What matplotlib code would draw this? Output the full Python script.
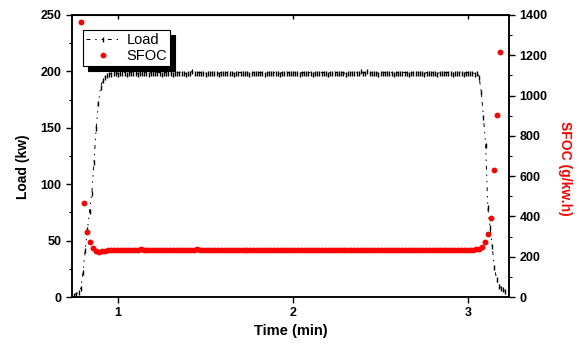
import matplotlib

matplotlib.use("Agg")
import matplotlib.pyplot as plt  # noqa: E402
import numpy as np  # noqa: E402
from matplotlib.ticker import MultipleLocator  # noqa: E402

plt.rcParams["font.family"] = ["Liberation Sans", "DejaVu Sans"]

# engine load (kW), sampled evenly from 0.75 to 3.2125 min
load_ramp = [2, 3, 4, 8, 22, 42, 60, 76, 92, 120, 150, 172, 186, 192, 195, 197, 198]
load_steady = [
    198, 199, 199, 198, 199, 199, 199, 198, 199, 199, 199, 199, 198, 199, 199, 199, 199, 198, 199, 199, 199, 199, 199, 198,
    199, 199, 199, 199, 198, 199, 199, 199, 199, 199, 198, 199, 199, 200, 199, 199, 199, 199, 199, 198, 199, 199, 199, 199,
    199, 198, 199, 199, 199, 199, 199, 199, 198, 199, 199, 199, 199, 199, 199, 198, 199, 199, 199, 199, 199, 199, 198, 199,
    199, 199, 199, 199, 199, 198, 199, 199, 199, 199, 199, 199, 199, 199, 198, 199, 199, 199, 199, 199, 198, 199, 199, 199,
    199, 199, 199, 198, 199, 199, 199, 199, 199, 199, 199, 198, 199, 199, 199, 199, 199, 199, 200, 199, 199, 200, 199, 199,
    199, 199, 198, 199, 199, 199, 199, 199, 199, 198, 199, 199, 199, 199, 199, 199, 198, 199, 199, 199, 199, 199, 199, 198,
    199, 199, 199, 199, 199, 198, 199, 199, 199, 199, 199, 199, 198, 199, 199, 199, 199, 198, 199, 199, 199, 199, 198, 199,
]
load_drop = [195, 182, 160, 135, 80, 62, 45, 27, 16, 10, 8, 7, 5]
load = load_ramp + load_steady + load_drop
t_load = np.linspace(0.75, 3.2125, len(load))

# specific fuel oil consumption (g/kW.h), sampled evenly from 0.789 to 3.182 min
sfoc_start = [1365, 467, 323, 273, 243, 228, 224, 226, 229, 231]
sfoc_steady = [
    233, 233, 234, 234, 234, 235, 235, 235, 235, 235, 236, 235, 235, 235, 235, 235, 235, 234, 235, 235, 235, 235, 235, 235,
    235, 234, 235, 235, 235, 236, 235, 235, 235, 234, 235, 235, 235, 235, 234, 235, 235, 235, 235, 235, 234, 235, 235, 235,
    235, 235, 234, 235, 235, 235, 235, 234, 235, 235, 235, 235, 235, 235, 234, 235, 235, 235, 234, 235, 235, 235, 235, 235,
    234, 235, 235, 235, 235, 234, 235, 235, 235, 235, 235, 234, 235, 235, 235, 235, 234, 235, 235, 235, 235, 235, 234, 235,
    235, 235, 235, 234, 235, 235, 235, 235, 235, 234, 235, 235, 235, 235, 235, 234, 235, 235, 235, 235, 234, 235, 235, 235,
    234, 235, 235, 236, 240,
]
sfoc_end = [248, 275, 315, 390, 630, 905, 1216]
sfoc = sfoc_start + sfoc_steady + sfoc_end
t_sfoc = np.linspace(0.789, 3.182, len(sfoc))

fig = plt.figure(figsize=(5.79, 3.44), dpi=100)
ax = fig.add_axes([0.1244, 0.1366, 0.7548, 0.8198])
ax2 = ax.twinx()

(l_load,) = ax.plot(t_load, load, color="black", lw=0.7, ls=(0, (4, 5, 1.5, 5, 1.5, 5)),
                    marker="|", ms=3.6, mew=1.0, label="Load")
(l_sfoc,) = ax2.plot(t_sfoc, sfoc, ls="none", marker="o", ms=4.2, mew=0,
                     color="#ff0000", label="SFOC")

ax.set_xlim(0.737, 3.234)
ax.set_ylim(0, 250)
ax2.set_ylim(0, 1400)

ax.xaxis.set_major_locator(MultipleLocator(1))
ax.yaxis.set_major_locator(MultipleLocator(50))
ax.yaxis.set_minor_locator(MultipleLocator(25))
ax2.yaxis.set_major_locator(MultipleLocator(200))
ax2.yaxis.set_minor_locator(MultipleLocator(100))

for a in (ax, ax2):
    for sp in a.spines.values():
        sp.set_linewidth(1.1)
    a.tick_params(which="major", direction="out", length=4, width=1, labelsize=9)
    a.tick_params(which="minor", direction="out", length=2, width=0.8)
    for lab in a.get_xticklabels() + a.get_yticklabels():
        lab.set_fontweight("bold")

top = ax.secondary_xaxis("top")
top.xaxis.set_major_locator(MultipleLocator(1))
top.tick_params(direction="in", length=3, width=1, labeltop=False)

ax.set_xlabel("Time (min)", fontsize=10.5, fontweight="bold")
ax.xaxis.set_label_coords(0.5, -0.095)
ax.set_ylabel("Load (kw)", fontsize=10, fontweight="bold", va="center")
ax.yaxis.set_label_coords(-0.112, 0.461)
ax2.set_ylabel("SFOC (g/kw.h)", fontsize=10, fontweight="bold", color="#ff0000",
               rotation=-90, va="center")
ax2.yaxis.set_label_coords(1.128, 0.457)

leg = ax2.legend(handles=[l_load, l_sfoc], loc="upper left", bbox_to_anchor=(0.025, 0.947),
                 borderaxespad=0, fancybox=False, numpoints=1, handlelength=2.3,
                 handletextpad=0.5, borderpad=0.2, labelspacing=0.15, fontsize=10.5,
                 shadow={"color": "black", "alpha": 1, "ox": 3.6, "oy": -3.6})
leg.get_frame().set_edgecolor("black")
leg.get_frame().set_linewidth(0.8)
leg.get_frame().set_alpha(1)

fig.savefig("out.png", dpi=100)
